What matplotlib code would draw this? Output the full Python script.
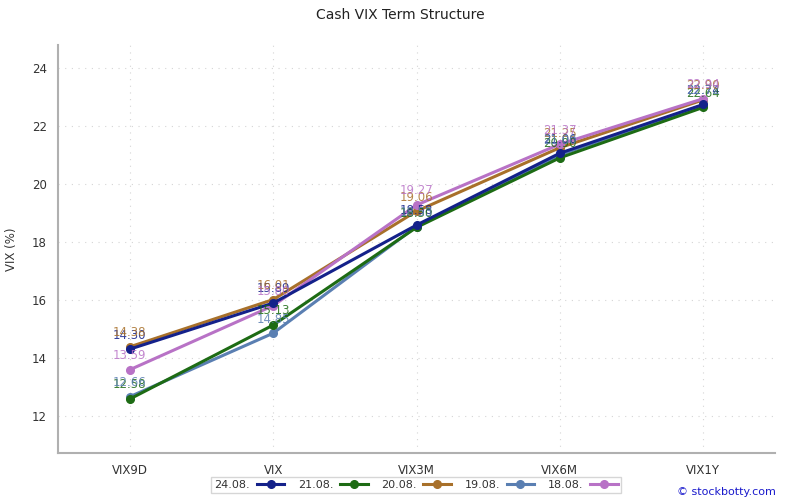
import matplotlib
matplotlib.use("Agg")
import matplotlib.pyplot as plt

categories = ["VIX9D", "VIX", "VIX3M", "VIX6M", "VIX1Y"]
dates = ["24.08.", "21.08.", "20.08.", "19.08.", "18.08."]
v_24 = [14.30, 15.89, 18.58, 21.06, 22.74]
v_21 = [12.58, 15.13, 18.50, 20.90, 22.64]
v_20 = [14.38, 16.01, 19.06, 21.25, 22.90]
v_19 = [12.66, 14.85, 18.53, 21.00, 22.72]
v_18 = [13.59, 15.80, 19.27, 21.37, 22.94]
series = [v_24, v_21, v_20, v_19, v_18]
colors = ["#14218a", "#1d6b14", "#a8702a", "#5a7fb2", "#b872c6"]
zorders = [7, 6, 4, 3, 5]

fig = plt.figure(figsize=(8, 5), dpi=100)
ax = fig.add_axes([58/800, 47/500, 717/800, 408/500])
x = list(range(len(categories)))
for vals, lab, c, z in zip(series, dates, colors, zorders):
    ax.plot(x, vals, color=c, lw=2.2, marker="o", ms=5.5, label=lab, zorder=z)
    for xi, v in zip(x, vals):
        ax.annotate(f"{v:.2f}", (xi, v), xytext=(0, 5.5), textcoords="offset points",
                    ha="center", va="bottom", fontsize=8.5, color=c, alpha=0.85, zorder=10)

ax.set_xlim(-0.5, 4.5)
ax.set_ylim(10.72, 24.79)
ax.set_xticks(x)
ax.set_xticklabels(categories)
ax.set_yticks([12, 14, 16, 18, 20, 22, 24])
ax.tick_params(length=0, labelsize=8.5, labelcolor="#333333", pad=8)
ax.grid(True, linestyle=(0, (1, 5)), color="#d5d5d5", lw=0.8)
for s in ["top", "right"]:
    ax.spines[s].set_visible(False)
for s in ["left", "bottom"]:
    ax.spines[s].set_color("#b0b0b0")
    ax.spines[s].set_linewidth(1.5)
ax.set_ylabel("VIX (%)", fontsize=8.5, color="#333333", labelpad=10)
fig.text(0.5, 0.97, "Cash VIX Term Structure", ha="center", va="center", fontsize=10, color="#222222")
leg = ax.legend(loc="center", bbox_to_anchor=(416/800, 15/500), bbox_transform=fig.transFigure,
                ncol=5, markerfirst=False, fontsize=8, frameon=True, fancybox=False,
                edgecolor="#cccccc", handlelength=2.5, columnspacing=1.2, borderpad=0.3,
                handletextpad=0.6)
for t in leg.get_texts():
    t.set_color("#333333")
fig.text(776/800, 8/500, "© stockbotty.com", ha="right", va="center", fontsize=8, color="#1a1acc")
fig.savefig("out.png", dpi=100)
